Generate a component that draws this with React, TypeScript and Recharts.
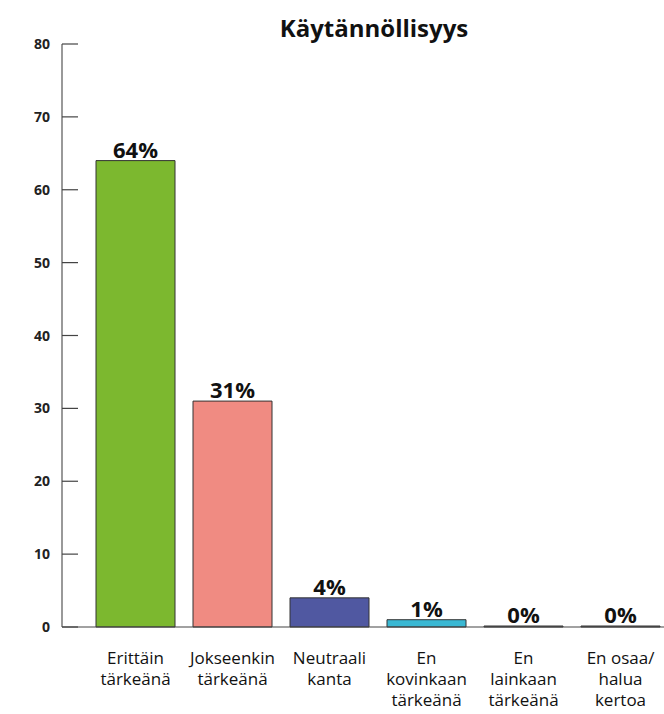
import { BarChart, Bar, XAxis, YAxis, Cell, LabelList } from "recharts";

const categories = [
  "Erittäin\ntärkeänä",
  "Jokseenkin\ntärkeänä",
  "Neutraali\nkanta",
  "En\nkovinkaan\ntärkeänä",
  "En\nlainkaan\ntärkeänä",
  "En osaa/\nhalua\nkertoa",
];
const values = [64, 31, 4, 1, 0, 0];
const yTicks = [0, 10, 20, 30, 40, 50, 60, 70, 80];
const COLORS = ["#7cb82f", "#f08b82", "#5058a1", "#3ab8d3", "#7f7f7f", "#7f7f7f"];

const FONT = "'Open Sans', 'Noto Sans', sans-serif";

const data = categories.map((name, i) => ({ name, value: values[i] }));

function YTick(props: any) {
  const { x, y, payload } = props;
  return (
    <g>
      <line x1={x} x2={x + 16} y1={y} y2={y} stroke="#444" strokeWidth={1.2} />
      <text x={x - 12} y={y} dy={5} textAnchor="end" fontSize={14} fontWeight={700} fill="#222" fontFamily={FONT}>
        {payload.value}
      </text>
    </g>
  );
}

function XTick(props: any) {
  const { x, y, payload } = props;
  const lines = String(payload.value).split("\n");
  return (
    <text x={x} y={y} textAnchor="middle" fontSize={17} fill="#111" fontFamily={FONT}>
      {lines.map((l, i) => (
        <tspan key={i} x={x} dy={i === 0 ? 37 : 21}>{l}</tspan>
      ))}
    </text>
  );
}

export default function App() {
  return (
    <div style={{ position: "absolute", left: 0, top: 0, width: 664, height: 714, overflow: "hidden", background: "#fff" }}>
      <div
        style={{
          position: "absolute", left: 224, top: 11, width: 300, textAlign: "center",
          fontFamily: FONT, fontWeight: 700, fontSize: 24, color: "#111",
        }}
      >
        Käytännöllisyys
      </div>
      <BarChart width={672} height={714} data={data} margin={{ top: 44, right: 3, bottom: 0, left: 0 }}>
        <XAxis
          dataKey="name"
          height={87}
          interval={0}
          padding={{ left: 25, right: 0 }}
          axisLine={{ stroke: "#444", strokeWidth: 1.2 }}
          tickLine={false}
          tick={<XTick />}
          tickSize={0}
          tickMargin={0}
        />
        <YAxis
          width={62}
          domain={[0, 80]}
          ticks={yTicks}
          interval={0}
          axisLine={{ stroke: "#555", strokeWidth: 1.2 }}
          tickLine={false}
          tickSize={0}
          tickMargin={0}
          tick={<YTick />}
        />
        <Bar dataKey="value" barSize={79} stroke="#333" strokeWidth={1} minPointSize={1} isAnimationActive={false}>
          {data.map((_, i) => (
            <Cell key={i} fill={COLORS[i]} />
          ))}
          <LabelList
            dataKey="value"
            position="top"
            offset={3}
            formatter={(v: any) => `${v}%`}
            style={{ fontSize: 22, fontWeight: 700, fill: "#111", fontFamily: FONT }}
          />
        </Bar>
      </BarChart>
    </div>
  );
}
